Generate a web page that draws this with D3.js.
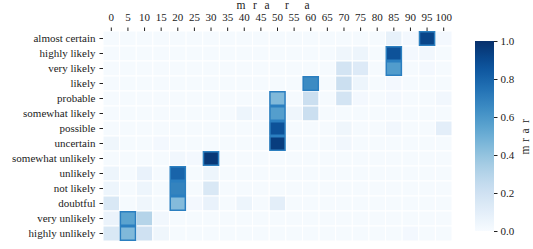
<!DOCTYPE html>
<html>
<head>
<meta charset="utf-8">
<script src="https://cdn.jsdelivr.net/npm/d3@7"></script>
<style>
  body { margin: 0; background: #fff; }
</style>
</head>
<body>
<div id="chart"></div>
<script>
const FONT = '"Liberation Serif", "DejaVu Serif", serif'

const rows = ['almost certain', 'highly likely', 'very likely', 'likely', 'probable',
  'somewhat likely', 'possible', 'uncertain', 'somewhat unlikely', 'unlikely',
  'not likely', 'doubtful', 'very unlikely', 'highly unlikely']
const cols = [0, 5, 10, 15, 20, 25, 30, 35, 40, 45, 50, 55, 60, 65, 70, 75, 80, 85, 90, 95, 100]
const cbTicks = [0, 0.2, 0.4, 0.6, 0.8, 1.0]
const titleLetters = ['m', 'r', 'a', 'r', 'a']
const cbLetters = ['m', 'r', 'a', 'r']

// one row per phrase, one value per column 0..100
const values = [
  [0.01,0.01,0.01,0.01,0.01,0.01,0.01,0.01,0.01,0.01,0.01,0.01,0.01,0.01,0.01,0.01,0.01,0.08,0.02,0.92,0.02],
  [0.01,0.01,0.01,0.01,0.01,0.01,0.01,0.01,0.01,0.01,0.01,0.01,0.01,0.01,0.04,0.05,0.01,0.87,0.02,0.03,0.01],
  [0.01,0.01,0.01,0.01,0.01,0.01,0.01,0.01,0.01,0.01,0.01,0.01,0.01,0.01,0.18,0.13,0.01,0.58,0.01,0.02,0.01],
  [0.01,0.01,0.01,0.01,0.01,0.01,0.01,0.01,0.01,0.01,0.01,0.01,0.65,0.01,0.22,0.05,0.01,0.02,0.01,0.01,0.01],
  [0.01,0.01,0.01,0.01,0.01,0.01,0.01,0.01,0.01,0.01,0.45,0.01,0.22,0.01,0.18,0.02,0.01,0.02,0.01,0.01,0.03],
  [0.01,0.01,0.01,0.01,0.01,0.01,0.01,0.01,0.05,0.02,0.57,0.04,0.22,0.01,0.01,0.01,0.01,0.01,0.01,0.01,0.01],
  [0.01,0.01,0.01,0.01,0.01,0.01,0.01,0.01,0.01,0.01,0.87,0.01,0.01,0.01,0.04,0.01,0.01,0.03,0.01,0.01,0.10],
  [0.04,0.01,0.01,0.02,0.01,0.01,0.01,0.01,0.01,0.01,0.95,0.01,0.01,0.01,0.03,0.01,0.01,0.01,0.01,0.01,0.01],
  [0.01,0.01,0.01,0.01,0.03,0.02,0.97,0.01,0.01,0.01,0.01,0.01,0.01,0.01,0.01,0.01,0.01,0.01,0.01,0.01,0.01],
  [0.05,0.01,0.07,0.01,0.80,0.01,0.05,0.01,0.01,0.01,0.01,0.01,0.01,0.01,0.01,0.01,0.01,0.01,0.01,0.01,0.01],
  [0.05,0.01,0.05,0.01,0.68,0.01,0.15,0.01,0.01,0.01,0.01,0.01,0.01,0.01,0.01,0.01,0.01,0.01,0.01,0.01,0.01],
  [0.15,0.01,0.04,0.01,0.44,0.02,0.07,0.01,0.05,0.01,0.10,0.01,0.01,0.01,0.01,0.01,0.01,0.01,0.01,0.01,0.01],
  [0.06,0.55,0.30,0.03,0.01,0.01,0.01,0.01,0.01,0.01,0.01,0.01,0.01,0.01,0.01,0.01,0.01,0.01,0.01,0.01,0.01],
  [0.15,0.45,0.20,0.04,0.01,0.01,0.01,0.01,0.01,0.01,0.01,0.01,0.01,0.01,0.01,0.01,0.01,0.01,0.02,0.01,0.01]
]

const W = 533, H = 249
const margin = { left: 103, top: 31, right: 81, bottom: 8 }
const plotW = W - margin.left - margin.right
const plotH = H - margin.top - margin.bottom

const svg = d3.select('#chart').append('svg')
  .attr('width', W).attr('height', H)
  .attr('font-family', FONT)

const g = svg.append('g')
  .attr('transform', `translate(${margin.left}, ${margin.top})`)

const x = d3.scaleBand().domain(cols).range([0, plotW])
const y = d3.scaleBand().domain(rows).range([0, plotH])
const color = d3.scaleSequential(d3.interpolateBlues).domain([0, 1])

const cells = []
values.forEach((row, i) => {
  const maxV = d3.max(row)
  row.forEach((v, j) => cells.push({ r: rows[i], c: cols[j], v, top: v === maxV }))
})

g.append('g').selectAll('rect')
  .data(cells)
  .join('rect')
  .attr('x', d => x(d.c))
  .attr('y', d => y(d.r))
  .attr('width', x.bandwidth())
  .attr('height', y.bandwidth())
  .attr('fill', d => color(d.v))
  .attr('stroke', '#fff')
  .attr('stroke-width', 1)

// outline the largest cell of each row
g.append('g').selectAll('rect')
  .data(cells.filter(d => d.top))
  .join('rect')
  .attr('x', d => x(d.c) + 0.75)
  .attr('y', d => y(d.r) + 0.75)
  .attr('width', x.bandwidth() - 1.5)
  .attr('height', y.bandwidth() - 1.5)
  .attr('fill', 'none')
  .attr('stroke', '#2b7fc0')
  .attr('stroke-width', 1.5)

const styleAxis = sel => {
  sel.select('.domain').remove()
  sel.attr('font-family', FONT)
  sel.selectAll('text').attr('font-size', 11).attr('fill', '#222').attr('font-family', FONT)
  sel.selectAll('line').attr('stroke', '#222')
}

g.append('g')
  .call(d3.axisTop(x).tickSize(3.5).tickPadding(7))
  .call(styleAxis)

g.append('g')
  .call(d3.axisLeft(y).tickSize(3.5).tickPadding(4))
  .call(styleAxis)

// spaced title letters above the top axis
const titleX = [241, 255, 267, 287, 307]
svg.append('g').selectAll('text')
  .data(titleLetters)
  .join('text')
  .attr('x', (d, i) => titleX[i])
  .attr('y', 9)
  .attr('text-anchor', 'middle')
  .attr('font-size', 11.5)
  .attr('fill', '#222')
  .text(d => d)

// colorbar
const cbX = 475, cbW = 19, cbTop = 41, cbBot = 231
const defs = svg.append('defs')
const grad = defs.append('linearGradient')
  .attr('id', 'cbgrad')
  .attr('x1', 0).attr('y1', 1).attr('x2', 0).attr('y2', 0)
d3.range(0, 1.0001, 0.05).forEach(t => {
  grad.append('stop').attr('offset', t).attr('stop-color', color(t))
})
svg.append('rect')
  .attr('x', cbX).attr('y', cbTop)
  .attr('width', cbW).attr('height', cbBot - cbTop)
  .attr('fill', 'url(#cbgrad)')

const cbScale = d3.scaleLinear().domain([0, 1]).range([cbBot, cbTop])
svg.append('g')
  .attr('transform', `translate(${cbX + cbW}, 0)`)
  .call(d3.axisRight(cbScale).tickValues(cbTicks).tickFormat(d3.format('.1f')).tickSize(3.5).tickPadding(3))
  .call(styleAxis)

// rotated colorbar label, letters spaced like the title
const cbLabelY = [150, 140, 131, 121]
svg.append('g').selectAll('text')
  .data(cbLetters)
  .join('text')
  .attr('transform', (d, i) => `translate(529, ${cbLabelY[i]}) rotate(-90)`)
  .attr('text-anchor', 'middle')
  .attr('font-size', 11.5)
  .attr('fill', '#222')
  .text(d => d)
</script>
</body>
</html>
